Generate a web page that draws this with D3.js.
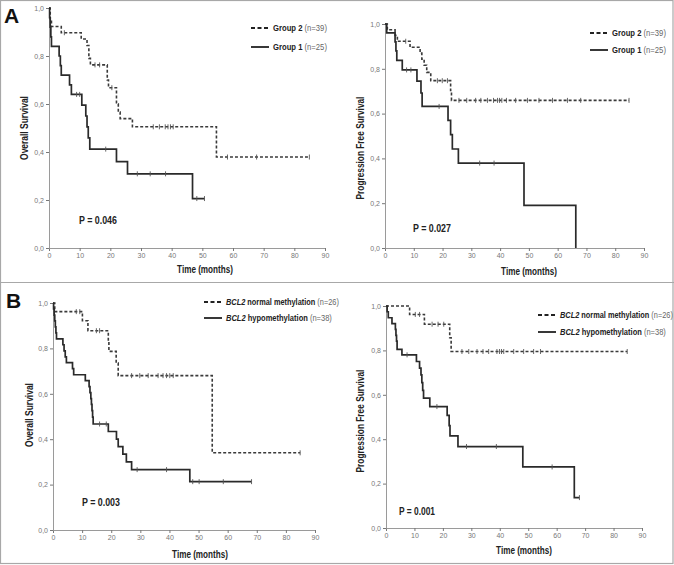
<!DOCTYPE html>
<html>
<head>
<meta charset="utf-8">
<script src="https://cdn.jsdelivr.net/npm/d3@7"></script>
<style>
  html, body { margin: 0; padding: 0; background: #fff; }
  svg { display: block; font-family: "Liberation Sans", Arial, sans-serif; }
</style>
</head>
<body>
<svg id="chart" width="674" height="565"></svg>
<script>
// ---------------- DATA ----------------
const xTicks = [0, 10, 20, 30, 40, 50, 60, 70, 80, 90];
const yTicks = [0, 0.2, 0.4, 0.6, 0.8, 1.0];

// Panel A – Overall Survival
const aOsG2Times = [0.4, 0.8, 4.0, 10.5, 12.4, 13.0, 13.5, 19.0, 19.4, 22.0, 22.6, 23.2, 27.2, 54.6];
const aOsG2Surv  = [0.949, 0.923, 0.897, 0.871, 0.844, 0.79, 0.763, 0.70, 0.668, 0.60, 0.566, 0.539, 0.505, 0.379];
const aOsG2Cens  = [5.0, 15.0, 16.5, 20.5, 34, 36, 37.9, 38.8, 39.6, 40.5, 58.2, 67.7, 84.9];
const aOsG1Times = [0.2, 0.4, 0.6, 0.8, 3.3, 3.7, 4.0, 6.7, 7.3, 10.7, 12.0, 12.4, 12.8, 13.3, 22.0, 25.6, 46.8];
const aOsG1Surv  = [0.96, 0.92, 0.88, 0.84, 0.80, 0.76, 0.72, 0.68, 0.64, 0.595, 0.55, 0.505, 0.459, 0.412, 0.36, 0.309, 0.206];
const aOsG1Cens  = [9.0, 10.0, 18.5, 28.8, 33.0, 38.0, 48.2, 50.7];

// Panel A – Progression Free Survival
const aPfsG2Times = [0.8, 3.5, 4.3, 8.7, 12.2, 12.8, 13.6, 14.5, 15.9, 22.8, 23.1];
const aPfsG2Surv  = [0.974, 0.949, 0.923, 0.896, 0.87, 0.843, 0.816, 0.784, 0.747, 0.703, 0.659];
const aPfsG2Cens  = [7.2, 18.2, 19.9, 21.7, 25.7, 28.4, 31.5, 33.3, 35.6, 37.7, 39.1, 39.8, 40.6, 42.2, 45.4, 49.5, 53.5, 58.2, 63.4, 68.0, 84.8];
const aPfsG1Times = [0.6, 3.5, 3.8, 4.1, 6.0, 11.1, 12.5, 12.9, 21.9, 22.8, 23.4, 25.5, 48.3, 66.3];
const aPfsG1Surv  = [0.96, 0.92, 0.88, 0.838, 0.795, 0.745, 0.692, 0.632, 0.57, 0.506, 0.442, 0.379, 0.19, 0.0];
const aPfsG1Cens  = [7.5, 9.0, 18.8, 32.9, 37.9];

// Panel B – Overall Survival
const bOsNormTimes = [0.6, 10.1, 12.0, 19.0, 19.2, 21.7, 22.4, 54.7];
const bOsNormSurv  = [0.962, 0.922, 0.878, 0.832, 0.787, 0.735, 0.68, 0.34];
const bOsNormCens  = [8.0, 9.2, 14.9, 16.0, 27.0, 29.8, 32.7, 36.1, 37.8, 39.0, 40.1, 41.3, 84.9];
const bOsHypoTimes = [0.2, 0.4, 0.6, 0.8, 1.0, 1.2, 3.4, 3.8, 4.2, 4.6, 6.7, 7.1, 11.1, 12.4, 12.7, 13.0, 13.2, 13.4, 13.6, 13.8, 19.0, 21.8, 22.4, 24.0, 25.2, 27.0, 47.0];
const bOsHypoSurv  = [0.974, 0.947, 0.921, 0.895, 0.868, 0.842, 0.816, 0.789, 0.763, 0.737, 0.711, 0.684, 0.658, 0.632, 0.605, 0.579, 0.553, 0.526, 0.497, 0.467, 0.434, 0.40, 0.367, 0.334, 0.30, 0.266, 0.213];
const bOsHypoCens  = [16.0, 18.3, 28.9, 39.0, 48.0, 50.2, 58.5, 68.2];

// Panel B – Progression Free Survival
const bPfsNormTimes = [8.3, 13.5, 22.4, 22.9];
const bPfsNormSurv  = [0.962, 0.918, 0.857, 0.795];
const bPfsNormCens  = [10.3, 11.8, 16.2, 18.3, 20.3, 26.7, 29.1, 32.0, 34.1, 36.1, 39.0, 39.9, 40.6, 41.4, 44.9, 48.4, 51.9, 54.3, 84.8];
const bPfsHypoTimes = [0.4, 0.8, 2.1, 3.3, 3.5, 3.7, 3.9, 5.6, 10.7, 11.8, 12.3, 12.6, 12.9, 13.2, 15.4, 21.5, 22.2, 22.5, 25.3, 48.1, 66.2];
const bPfsHypoSurv  = [0.974, 0.947, 0.921, 0.895, 0.868, 0.842, 0.805, 0.78, 0.75, 0.72, 0.69, 0.655, 0.62, 0.585, 0.547, 0.507, 0.461, 0.415, 0.367, 0.275, 0.137];
const bPfsHypoCens  = [7.4, 17.9, 28.3, 38.8, 58.4, 68.0];

const pValues = ["P = 0.046", "P = 0.027", "P = 0.003", "P = 0.001"];
const yTitles = ["Overall Survival", "Progression Free Survival", "Overall Survival", "Progression Free Survival"];
const xTitle = "Time (months)";
const legendA = [
  { italic: "", bold: "Group 2", normal: " (n=39)", dashed: true },
  { italic: "", bold: "Group 1", normal: " (n=25)", dashed: false }
];
const legendB = [
  { italic: "BCL2", bold: " normal methylation", normal: " (n=26)", dashed: true },
  { italic: "BCL2", bold: " hypomethylation", normal: " (n=38)", dashed: false }
];

// ---------------- DRAWING ----------------
const svg = d3.select("#chart");

// frame
svg.append("rect").attr("x", 0.5).attr("y", 0.5).attr("width", 672.5).attr("height", 563)
  .attr("fill", "none").attr("stroke", "#a8a8a8").attr("stroke-width", 1.2);
svg.append("line").attr("x1", 0).attr("x2", 674).attr("y1", 282.5).attr("y2", 282.5)
  .attr("stroke", "#a8a8a8").attr("stroke-width", 1.2);

svg.append("text").attr("x", 4).attr("y", 23).text("A")
  .attr("font-size", 21).attr("font-weight", "bold").attr("fill", "#111");
svg.append("text").attr("x", 6).attr("y", 308).text("B")
  .attr("font-size", 21).attr("font-weight", "bold").attr("fill", "#111");

// horizontally squeeze a text (inside its own group) to a target width
function fitText(parent, cx, cy, width, rotate, anchor, build) {
  const gg = parent.append("g");
  const t = gg.append("text").attr("text-anchor", anchor);
  build(t);
  const w = t.node().getComputedTextLength();
  const s = width / w;
  gg.attr("transform", `translate(${cx},${cy})${rotate ? " rotate(-90)" : ""} scale(${s},1)`);
  return t;
}

const panels = [
  { x0: 49, x1: 325, yTop: 8, yBot: 248, xLab: 205, xLabY: 273, yLabX: 28, yLabY: 128,
    pX: 79, pY: 224, legX: 251, legY: [28, 47], legW: [54, 54], legend: legendA,
    dashed: [aOsG2Times, aOsG2Surv, aOsG2Cens], solid: [aOsG1Times, aOsG1Surv, aOsG1Cens] },
  { x0: 385, x1: 644, yTop: 24, yBot: 248, xLab: 529, xLabY: 275, yLabX: 364, yLabY: 148,
    pX: 413, pY: 232, legX: 590, legY: [33, 50], legW: [54, 54], legend: legendA,
    dashed: [aPfsG2Times, aPfsG2Surv, aPfsG2Cens], solid: [aPfsG1Times, aPfsG1Surv, aPfsG1Cens] },
  { x0: 53, x1: 315, yTop: 303, yBot: 530, xLab: 200, xLabY: 558, yLabX: 33, yLabY: 415,
    pX: 82, pY: 506, legX: 204, legY: [302, 318], legW: [113, 106], legend: legendB,
    dashed: [bOsNormTimes, bOsNormSurv, bOsNormCens], solid: [bOsHypoTimes, bOsHypoSurv, bOsHypoCens] },
  { x0: 386, x1: 642, yTop: 306, yBot: 528, xLab: 524, xLabY: 554, yLabX: 364, yLabY: 421,
    pX: 399, pY: 515, legX: 538, legY: [315, 332], legW: [113, 106], legend: legendB,
    dashed: [bPfsNormTimes, bPfsNormSurv, bPfsNormCens], solid: [bPfsHypoTimes, bPfsHypoSurv, bPfsHypoCens] }
];

const fmt = d => d3.format(".1f")(d).replace(".", ",");

panels.forEach((p, i) => {
  const x = d3.scaleLinear().domain([0, 90]).range([p.x0, p.x1]);
  const y = d3.scaleLinear().domain([0, 1]).range([p.yBot, p.yTop]);
  const g = svg.append("g");

  // axes
  const xAxis = g.append("g").attr("transform", `translate(0,${p.yBot})`)
    .call(d3.axisBottom(x).tickValues(xTicks).tickSize(3).tickPadding(2).tickFormat(d3.format("d")));
  const yAxis = g.append("g").attr("transform", `translate(${p.x0},0)`)
    .call(d3.axisLeft(y).tickValues(yTicks).tickSize(3).tickPadding(2).tickFormat(fmt));
  [xAxis, yAxis].forEach(a => {
    a.select(".domain").attr("stroke", "#9a9a9a").attr("stroke-width", 1);
    a.selectAll(".tick line").attr("stroke", "#777");
    a.selectAll(".tick text").attr("fill", "#777").attr("font-size", 7)
      .attr("font-family", "Liberation Sans, Arial, sans-serif");
  });

  // titles
  fitText(g, p.xLab, p.xLabY, 56, false, "middle", t =>
    t.attr("font-size", 10.5).attr("font-weight", "bold").attr("fill", "#222").text(xTitle));
  fitText(g, p.yLabX, p.yLabY, i % 2 === 0 ? 64 : 103, true, "middle", t =>
    t.attr("font-size", 10.5).attr("font-weight", "bold").attr("fill", "#222").text(yTitles[i]));
  fitText(g, p.pX, p.pY, i === 3 ? 36 : 38, false, "start", t =>
    t.attr("font-size", 10.5).attr("font-weight", "bold").attr("fill", "#222").text(pValues[i]));

  // curves
  const drawCurve = (series, dashed) => {
    const [times, surv, cens] = series;
    const pts = [[0, 1]];
    times.forEach((t, k) => pts.push([t, surv[k]]));
    const end = Math.max(times[times.length - 1], cens.length ? d3.max(cens) : 0);
    pts.push([end, surv[surv.length - 1]]);
    const line = d3.line().x(d => x(d[0])).y(d => y(d[1])).curve(d3.curveStepAfter);
    g.append("path").datum(pts).attr("d", line).attr("fill", "none")
      .attr("stroke", dashed ? "#3a3a3a" : "#2a2a2a")
      .attr("stroke-width", dashed ? 1.6 : 1.7)
      .attr("stroke-dasharray", dashed ? "3,2" : null);
    const survAt = t => {
      let s = 1;
      times.forEach((tt, k) => { if (tt <= t) s = surv[k]; });
      return s;
    };
    g.selectAll(null).data(cens).enter().append("line")
      .attr("x1", d => x(d)).attr("x2", d => x(d))
      .attr("y1", d => y(survAt(d)) - 2.5).attr("y2", d => y(survAt(d)) + 2.5)
      .attr("stroke", "#555").attr("stroke-width", 0.9);
  };
  drawCurve(p.dashed, true);
  drawCurve(p.solid, false);

  // legend
  p.legend.forEach((item, k) => {
    const ly = p.legY[k];
    g.append("line").attr("x1", p.legX).attr("x2", p.legX + 18).attr("y1", ly).attr("y2", ly)
      .attr("stroke", "#222").attr("stroke-width", 1.8)
      .attr("stroke-dasharray", item.dashed ? "4,2.5" : null);
    fitText(g, p.legX + 22, ly + 3.2, p.legW[k], false, "start", t => {
      t.attr("font-size", 9);
      if (item.italic) t.append("tspan").attr("font-style", "italic").attr("font-weight", "bold")
        .attr("fill", "#222").text(item.italic);
      t.append("tspan").attr("font-weight", "bold").attr("fill", "#222").text(item.bold);
      t.append("tspan").attr("fill", "#666").text(item.normal);
    });
  });
});
</script>
</body>
</html>
